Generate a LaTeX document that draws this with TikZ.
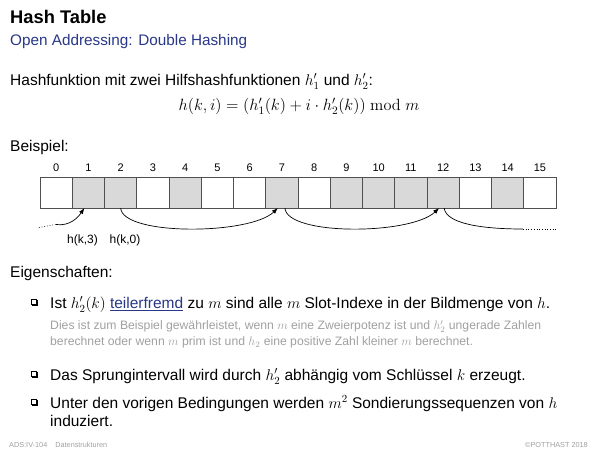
\RequirePackage{fix-cm}
\documentclass[tikz,border=0pt]{standalone}
\usepackage[no-math]{fontspec}
\setmainfont{Liberation Sans}
\usetikzlibrary{arrows.meta}
\definecolor{hdblue}{RGB}{40,55,135}
\definecolor{notegray}{RGB}{160,160,160}
\definecolor{cellgray}{RGB}{217,217,217}
\definecolor{cellline}{RGB}{80,80,80}
\begin{document}
\begin{tikzpicture}[x=1pt,y=1pt,
  txt/.style={anchor=base west,inner sep=0pt,font=\fontsize{15.5}{18}\selectfont},
  note/.style={anchor=base west,inner sep=0pt,font=\fontsize{12.2}{14}\selectfont,text=notegray},
  cell/.style={draw=cellline,line width=0.7pt,minimum width=32.25pt,minimum height=31pt,inner sep=0pt,outer sep=0pt,anchor=north west},
  full/.style={cell,fill=cellgray},
  idx/.style={font=\fontsize{11}{12}\selectfont,inner sep=0pt},
  lbl/.style={font=\fontsize{12}{14}\selectfont,inner sep=0pt},
  probe/.style={line width=0.7pt,-{Latex[length=6pt,width=4.5pt]}},
  tail/.style={line width=0.7pt},
  foot/.style={inner sep=0pt,font=\fontsize{7.3}{8}\selectfont,text=notegray,anchor=base west}
]
\useasboundingbox (0,0) rectangle (600,-450);
\newcommand{\sqbullet}[2]{%
  \fill[black] (#1+1,#2-1) rectangle +(5.5,-5.5);
  \filldraw[fill=white,draw=black,line width=0.5pt] (#1,#2) rectangle +(5.5,-5.5);}

\node[anchor=base west,inner sep=0pt,font=\fontsize{18.3}{20}\selectfont\bfseries] (title) at (10,-23.5) {Hash Table};
\node[anchor=base west,inner sep=0pt,font=\fontsize{15.3}{17}\selectfont,text=hdblue] (sub) at (10,-45) {Open Addressing: Double Hashing};

\node[txt] (intro) at (10,-85.5) {Hashfunktion mit zwei Hilfshashfunktionen $h'_1$ und $h'_2$:};
\node[anchor=base,inner sep=0pt,font=\fontsize{16.3}{18}\selectfont] (formula) at (299,-110) {$h(k,i) = (h'_1(k) + i\cdot h'_2(k)) \bmod m$};

\node[txt] (bsp) at (10,-151.5) {Beispiel:};

\foreach \i/\s in {0/cell,1/full,2/full,3/cell,4/full,5/cell,6/cell,7/full,8/cell,9/full,10/full,11/full,12/full,13/cell,14/full,15/cell}{
  \node[\s] (c\i) at ({40+32.25*\i},-177) {};
  \node[idx] (n\i) at ({40+32.25*(\i+0.5)},-168) {\i};
}

\coordinate (s0) at (39,-227.5);
\coordinate (s1) at (56,-224.5);
\coordinate (e0) at (523,-229);
\coordinate (e1) at (556,-229);
\draw[tail,dotted] (s0) -- (s1);
\draw[probe] (s1) .. controls +(14,-2) and +(-6,-9) .. ([xshift=-4pt]c1.south);
\draw[probe] (c2.south) .. controls +(2,-28) and +(-28,-27) .. ([xshift=-4pt]c7.south);
\draw[probe] ([xshift=3pt]c7.south) .. controls +(2,-28) and +(-28,-27) .. ([xshift=-4pt]c12.south);
\draw[tail] ([xshift=1pt]c12.south) .. controls +(2,-16) and +(-40,0) .. (e0);
\draw[tail,dotted] (e0) -- (e1);

\node[lbl] (l3) at (82.5,-240) {h(k,3)};
\node[lbl] (l0) at (125,-240) {h(k,0)};

\node[txt] (eig) at (10,-277.5) {Eigenschaften:};

\sqbullet{31}{-299}
\node[txt] (b1) at (50,-308.5) {Ist $h'_2(k)$ \textcolor{hdblue}{\underline{teilerfremd}} zu $m$ sind alle $m$ Slot-Indexe in der Bildmenge von $h$.};
\node[note] (b1a) at (50,-329.5) {Dies ist zum Beispiel gewährleistet, wenn $m$ eine Zweierpotenz ist und $h'_2$ ungerade Zahlen};
\node[note] (b1b) at (50,-345.5) {berechnet oder wenn $m$ prim ist und $h_2$ eine positive Zahl kleiner $m$ berechnet.};

\sqbullet{31}{-371}
\node[txt] (b2) at (50,-380.5) {Das Sprungintervall wird durch $h'_2$ abhängig vom Schlüssel $k$ erzeugt.};

\sqbullet{31}{-399}
\node[txt] (b3) at (50,-408.5) {Unter den vorigen Bedingungen werden $m^2$ Sondierungssequenzen von $h$};
\node[txt] (b3b) at (50,-426.5) {induziert.};

\node[foot] (f1) at (9,-447.5) {ADS:IV-104\hspace{8pt}Datenstrukturen};
\node[foot,anchor=base east] (f2) at (588,-447.5) {©POTTHAST 2018};
\end{tikzpicture}
\end{document}
